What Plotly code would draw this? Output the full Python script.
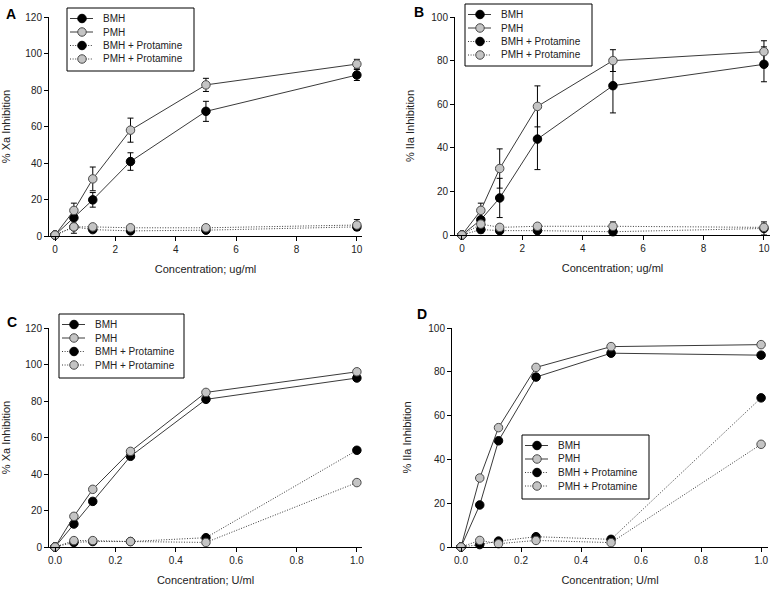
import plotly.graph_objects as go

W, H = 773, 590

# ---------------- data ----------------
conc_ug = [0, 0.625, 1.25, 2.5, 5, 10]
conc_u = [0, 0.0625, 0.125, 0.25, 0.5, 1.0]

# Panel A: % Xa inhibition (ug/ml)
a_bmh = [0.5, 10, 19.8, 40.8, 68.3, 88.2]
a_bmh_err = [0, 3, 4, 4.8, 5.5, 3]
a_pmh = [0.5, 14, 31.3, 58, 82.8, 94.2]
a_pmh_err = [0, 4, 6.5, 6.6, 3.6, 2.6]
a_bmhp = [0.5, 5, 3.5, 2.8, 3.2, 5]
a_bmhp_err = [0, 1.5, 1, 1, 1, 1.5]
a_pmhp = [0.5, 5, 5, 4.5, 4.5, 6]
a_pmhp_err = [0, 3.5, 1, 1, 1, 3]

# Panel B: % IIa inhibition (ug/ml)
b_bmh = [0, 7, 17, 44, 68.5, 78.3]
b_bmh_err = [0, 3, 9, 14, 12.5, 8]
b_pmh = [0, 11.3, 30.5, 59, 80, 84.1]
b_pmh_err = [0, 3.3, 9, 9.4, 5, 5]
b_bmhp = [0, 2.5, 2, 2, 1.5, 3]
b_bmhp_err = [0, 1.5, 1, 1, 1, 3]
b_pmhp = [0, 5, 3.5, 4, 4, 3.5]
b_pmhp_err = [0, 1, 1, 1, 2, 1.5]

# Panel C: % Xa inhibition (U/ml)
c_bmh = [0, 12.6, 25, 49.7, 80.9, 92.6]
c_pmh = [0, 16.8, 31.6, 52.4, 84.7, 96]
c_bmhp = [0, 2.5, 3, 3, 5.1, 53]
c_pmhp = [0, 3.5, 3.5, 3, 2.5, 35.3]

# Panel D: % IIa inhibition (U/ml)
d_bmh = [0, 19.2, 48.5, 77.6, 88.5, 87.6]
d_pmh = [0, 31.5, 54.5, 82, 91.5, 92.4]
d_bmhp = [0, 1.1, 2.7, 4.7, 3.5, 68.1]
d_pmhp = [0, 3, 1.5, 3, 2, 46.9]

names = ["BMH", "PMH", "BMH + Protamine", "PMH + Protamine"]
y_ticks_120 = [0, 20, 40, 60, 80, 100, 120]
y_ticks_100 = [0, 20, 40, 60, 80, 100]
x_ticks_ug = [0, 2, 4, 6, 8, 10]
x_ticks_u = [0.0, 0.2, 0.4, 0.6, 0.8, 1.0]
x_ticklabels_u = ["0.0", "0.2", "0.4", "0.6", "0.8", "1.0"]

# ---------------- styling ----------------
BLACK = "#000000"
GREY_FILL = "#c4c4c4"
GREY_EDGE = "#4a4a4a"
LINE = "#3a3a3a"
TXT = "#222222"
FONT = "Liberation Sans, Arial, sans-serif"
DOT = "1px,1.6px"
MSIZE = 8.5

styles = [
    dict(fill=BLACK, edge=BLACK, dash="solid"),
    dict(fill=GREY_FILL, edge=GREY_EDGE, dash="solid"),
    dict(fill=BLACK, edge=BLACK, dash=DOT),
    dict(fill=GREY_FILL, edge=GREY_EDGE, dash=DOT),
]

fig = go.Figure()


def px_x(p):
    return p / W


def px_y(p):
    return 1 - p / H


panels = [
    dict(k="", x=conc_ug, ys=[a_bmh, a_pmh, a_bmhp, a_pmhp],
         es=[a_bmh_err, a_pmh_err, a_bmhp_err, a_pmhp_err],
         xd=(49, 362), yd=(17, 236), xr=[-0.2, 10.17], yr=[0, 120],
         yt=y_ticks_120, xt=x_ticks_ug, xtl=[str(v) for v in x_ticks_ug],
         xtitle="Concentration; ug/ml", ytitle="% Xa Inhibition",
         leg=(67, 8, 127, 63), letter="A", lpos=(4, 4)),
    dict(k="2", x=conc_ug, ys=[b_bmh, b_pmh, b_bmhp, b_pmhp],
         es=[b_bmh_err, b_pmh_err, b_bmhp_err, b_pmhp_err],
         xd=(455, 770), yd=(17, 235), xr=[-0.23, 10.2], yr=[0, 100],
         yt=y_ticks_100, xt=x_ticks_ug, xtl=[str(v) for v in x_ticks_ug],
         xtitle="Concentration; ug/ml", ytitle="% IIa Inhibition",
         leg=(465, 4, 127, 62), letter="B", lpos=(412, 2)),
    dict(k="3", x=conc_u, ys=[c_bmh, c_pmh, c_bmhp, c_pmhp], es=None,
         xd=(49, 362), yd=(328, 547), xr=[-0.02, 1.017], yr=[0, 120],
         yt=y_ticks_120, xt=x_ticks_u, xtl=x_ticklabels_u,
         xtitle="Concentration; U/ml", ytitle="% Xa Inhibition",
         leg=(59, 314, 125, 64), letter="C", lpos=(5, 312)),
    dict(k="4", x=conc_u, ys=[d_bmh, d_pmh, d_bmhp, d_pmhp], es=None,
         xd=(452, 768), yd=(328, 547), xr=[-0.03, 1.023], yr=[0, 100],
         yt=y_ticks_100, xt=x_ticks_u, xtl=x_ticklabels_u,
         xtitle="Concentration; U/ml", ytitle="% IIa Inhibition",
         leg=(522, 435, 127, 64), letter="D", lpos=(415, 304)),
]

layout = dict(
    width=W, height=H,
    margin=dict(l=0, r=0, t=0, b=0),
    paper_bgcolor="white", plot_bgcolor="rgba(0,0,0,0)",
    font=dict(family=FONT, size=10, color=TXT),
    showlegend=False,
    annotations=[],
)

axis_common = dict(
    showline=True, linecolor=BLACK, linewidth=1,
    ticks="outside", ticklen=4, tickcolor=BLACK, tickwidth=1,
    showgrid=False, zeroline=False, mirror=False, automargin=False,
    tickfont=dict(size=10, color=TXT, family=FONT),
    fixedrange=True,
)

for p in panels:
    k = p["k"]
    xa = "x" + k
    ya = "y" + k
    for j in range(4):
        st = styles[j]
        err = None
        if p["es"] is not None:
            err = dict(type="data", array=p["es"][j], visible=True,
                       color=BLACK, thickness=1, width=3)
        fig.add_trace(go.Scatter(
            x=p["x"], y=p["ys"][j], name=names[j],
            mode="lines+markers",
            line=dict(color=LINE, width=1, dash=st["dash"]),
            marker=dict(size=MSIZE, color=st["fill"], line=dict(color=st["edge"], width=1)),
            error_y=err, xaxis=xa, yaxis=ya, cliponaxis=False, showlegend=False,
        ))
    layout["xaxis" + k] = dict(
        axis_common,
        domain=[px_x(p["xd"][0]), px_x(p["xd"][1])],
        range=p["xr"], anchor=ya,
        tickmode="array", tickvals=p["xt"], ticktext=p["xtl"],
        title=dict(text=p["xtitle"], font=dict(size=11, color=TXT), standoff=11),
    )
    layout["yaxis" + k] = dict(
        axis_common,
        domain=[px_y(p["yd"][1]), px_y(p["yd"][0])],
        range=p["yr"], anchor=xa,
        tickmode="array", tickvals=p["yt"],
        title=dict(text=p["ytitle"], font=dict(size=11, color=TXT), standoff=14),
    )
    layout["annotations"].append(dict(
        text="<b>%s</b>" % p["letter"], x=px_x(p["lpos"][0]), y=px_y(p["lpos"][1]),
        xref="paper", yref="paper", xanchor="left", yanchor="top",
        showarrow=False, font=dict(size=14, color=BLACK, family=FONT),
    ))

# ---------- legends: drawn on a hidden full-page overlay (pixel units) ----------
layout["xaxis5"] = dict(domain=[0, 1], range=[0, W], visible=False, fixedrange=True, anchor="y5")
layout["yaxis5"] = dict(domain=[0, 1], range=[H, 0], visible=False, fixedrange=True, anchor="x5")

for p in panels:
    L, T, BW, BH = p["leg"]
    fig.add_trace(go.Scatter(
        x=[L, L + BW, L + BW, L, L], y=[T, T, T + BH, T + BH, T],
        mode="lines", fill="toself", fillcolor="white",
        line=dict(color=BLACK, width=1), xaxis="x5", yaxis="y5",
        hoverinfo="skip", showlegend=False, cliponaxis=False,
    ))
    rows = [T + 10.5, T + 24, T + 37.5, T + 51]
    for j in range(4):
        st = styles[j]
        r = rows[j]
        fig.add_trace(go.Scatter(
            x=[L + 3, L + 26], y=[r, r], mode="lines",
            line=dict(color=LINE, width=1, dash=st["dash"]),
            xaxis="x5", yaxis="y5", hoverinfo="skip", showlegend=False, cliponaxis=False,
        ))
        fig.add_trace(go.Scatter(
            x=[L + 15], y=[r], mode="markers",
            marker=dict(size=MSIZE, color=st["fill"], line=dict(color=st["edge"], width=1)),
            xaxis="x5", yaxis="y5", hoverinfo="skip", showlegend=False, cliponaxis=False,
        ))
        layout["annotations"].append(dict(
            text=names[j], x=px_x(L + 34), y=px_y(r),
            xref="paper", yref="paper", xanchor="left", yanchor="middle",
            showarrow=False, font=dict(size=10, color=TXT, family=FONT),
        ))

fig.update_layout(**layout)
fig.write_html(
    "out.html",
    config={"displayModeBar": False, "staticPlot": True},
    post_script="document.body.style.margin='0px';document.body.style.overflow='hidden';",
)
